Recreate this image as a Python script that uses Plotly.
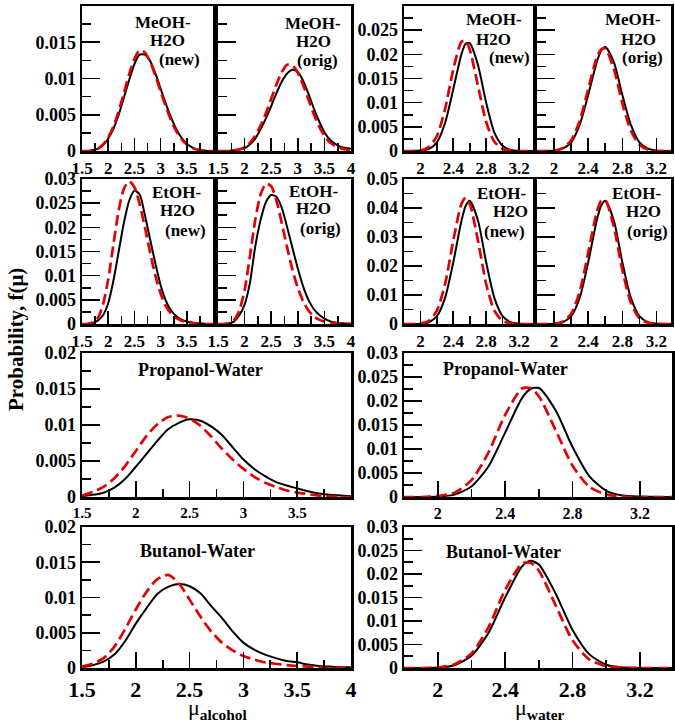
import plotly.graph_objects as go

W, H = 675, 725
FONT = "Liberation Serif"

# ---------------- data ----------------
alc_x = [1.5, 1.6, 1.7, 1.8, 1.9, 2.0, 2.1, 2.2, 2.3, 2.4, 2.5, 2.6, 2.7, 2.8, 2.9,
         3.0, 3.1, 3.2, 3.3, 3.4, 3.5, 3.6, 3.7, 3.8, 3.9, 4.0]
water_x = [1.8, 1.9, 2.0, 2.1, 2.2, 2.3, 2.4, 2.5, 2.55, 2.6, 2.7, 2.8, 2.9, 3.0, 3.1, 3.2, 3.4]

meoh_new_alc_black = [0, 0, .0001, .0003, .0008, .0017, .0031, .0050, .0074, .0098, .0120, .0133, .0133,
                      .0124, .0107, .0086, .0065, .0046, .0030, .0018, .0010, .0005, .0002, .0001, 0, 0]
meoh_new_alc_red = [0, 0, .0001, .0003, .0009, .0019, .0034, .0055, .0080, .0106, .0127, .0139, .0136,
                    .0123, .0104, .0082, .0061, .0042, .0027, .0016, .0009, .0004, .0002, .0001, 0, 0]
meoh_orig_alc_black = [0, 0, 0, .0001, .0002, .0004, .0009, .0017, .0030, .0045, .0062, .0080, .0096,
                       .0107, .0112, .0109, .0097, .0079, .0059, .0041, .0026, .0016, .0010, .0006, .0004, .0003]
meoh_orig_alc_red = [0, 0, 0, .0001, .0002, .0005, .0011, .0021, .0035, .0052, .0072, .0092, .0109,
                     .0119, .0118, .0108, .0091, .0071, .0051, .0034, .0021, .0012, .0007, .0004, .0002, .0001]
etoh_new_alc_black = [0, 0, .0002, .0007, .0018, .0043, .0090, .0150, .0210, .0255, .0276, .0268, .0225,
                      .0175, .0125, .0080, .0048, .0028, .0016, .0009, .0005, .0003, .0002, .0001, 0, 0]
etoh_new_alc_red = [0, 0, .0003, .0012, .0040, .0092, .0165, .0235, .0280, .0295, .0283, .0248, .0200,
                    .0148, .0100, .0063, .0037, .0021, .0012, .0007, .0004, .0002, .0001, 0, 0, 0]
etoh_orig_alc_black = [0, 0, .0001, .0005, .0018, .0040, .0085, .0160, .0215, .0252, .0267, .0263, .0240,
                       .0200, .0157, .0115, .0078, .0050, .0031, .0019, .0011, .0006, .0003, .0002, .0001, .0001]
etoh_orig_alc_red = [0, 0, .0002, .0008, .0028, .0070, .0140, .0215, .0268, .0290, .0285, .0255, .0208,
                     .0158, .0112, .0075, .0047, .0028, .0016, .0009, .0005, .0003, .0002, .0001, 0, 0]
prop_alc_black = [.0001, .0003, .0006, .0013, .0025, .0042, .0060, .0078, .0094, .0103, .0108, .0106, .0098,
                  .0086, .0069, .0052, .0039, .0029, .0021, .0016, .0012, .0008, .0005, .0003, .0002, .0001]
prop_alc_red = [.0002, .0007, .0014, .0026, .0043, .0064, .0085, .0101, .0111, .0113, .0109, .0099, .0084,
                .0067, .0052, .0039, .0028, .0020, .0014, .0009, .0006, .0004, .0002, .0001, 0, 0]
but_alc_black = [.0001, .0004, .0009, .0019, .0038, .0063, .0085, .0105, .0115, .0119, .0116, .0106, .0088,
                 .0071, .0052, .0036, .0026, .0019, .0014, .0010, .0008, .0005, .0003, .0002, .0001, .0001]
but_alc_red = [.0002, .0006, .0014, .0030, .0055, .0083, .0108, .0126, .0132, .0120, .0097, .0073, .0052,
               .0036, .0025, .0017, .0012, .0008, .0006, .0004, .0003, .0002, .0001, 0, 0, 0]

meoh_new_wat_black = [0, 0, .0001, .0004, .0018, .0058, .0128, .0201, .0222, .0223, .0178, .0100, .0038, .0011, .0002, 0, 0]
meoh_new_wat_red = [0, 0, .0001, .0008, .0031, .0087, .0169, .0226, .0228, .0210, .0135, .0060, .0019, .0004, .0001, 0, 0]
meoh_orig_wat_black = [0, 0, .0001, .0005, .0018, .0054, .0116, .0184, .0207, .0215, .0184, .0116, .0054, .0018, .0005, .0001, 0]
meoh_orig_wat_red = [0, 0, .0001, .0006, .0022, .0062, .0128, .0193, .0210, .0212, .0170, .0099, .0042, .0013, .0003, 0, 0]
etoh_new_wat_black = [0, 0, .0001, .0006, .0027, .0090, .0213, .0357, .0407, .0425, .0357, .0213, .0090, .0027, .0006, .0001, 0]
etoh_new_wat_red = [0, 0, .0002, .0011, .0046, .0138, .0288, .0415, .0435, .0415, .0288, .0138, .0046, .0011, .0002, 0, 0]
etoh_orig_wat_black = [0, 0, .0001, .0006, .0027, .0090, .0213, .0357, .0407, .0425, .0357, .0213, .0090, .0027, .0006, .0001, 0]
etoh_orig_wat_red = [0, 0, .0001, .0008, .0035, .0111, .0246, .0385, .0424, .0427, .0335, .0186, .0073, .0020, .0004, .0001, 0]
prop_wat_black = [0, 0, .0001, .0005, .0022, .0063, .0134, .0206, .0225, .0227, .0180, .0104, .0043, .0013, .0003, .0001, 0]
prop_wat_red = [0, 0, .0002, .0009, .0035, .0092, .0171, .0226, .0227, .0210, .0139, .0065, .0021, .0005, .0001, 0, 0]
but_wat_black = [0, 0, .0001, .0006, .0026, .0074, .0150, .0216, .0228, .0220, .0158, .0081, .0029, .0007, .0001, 0, 0]
but_wat_red = [0, 0, .0001, .0008, .0031, .0086, .0166, .0222, .0224, .0207, .0133, .0059, .0018, .0004, .0001, 0, 0]

meoh_new_lines = ["MeOH-", "H2O", "(new)"]
meoh_orig_lines = ["MeOH-", "H2O", "(orig)"]
etoh_new_lines = ["EtOH-", "H2O", "(new)"]
etoh_orig_lines = ["EtOH-", "H2O", "(orig)"]

panels = [
    dict(x=alc_x, b=meoh_new_alc_black, r=meoh_new_alc_red, kind="alc", xend=3.999, xb=(82, 213), yb=(6, 151), ymax=0.02, dy=0.005, ylab=True, xf=17, row=12),
    dict(x=alc_x, b=meoh_orig_alc_black, r=meoh_orig_alc_red, kind="alc", xend=4.0, xb=(218, 351), yb=(6, 151), ymax=0.02, dy=0.005, ylab=False, xf=17, row=12),
    dict(x=water_x, b=meoh_new_wat_black, r=meoh_new_wat_red, kind="wat", xend=3.37, xb=(404, 533), yb=(6, 151), ymax=0.03, dy=0.005, ylab=True, xf=17, row=12),
    dict(x=water_x, b=meoh_orig_wat_black, r=meoh_orig_wat_red, kind="wat", xend=3.37, xb=(537, 671), yb=(6, 151), ymax=0.03, dy=0.005, ylab=False, xf=17, row=12),
    dict(x=alc_x, b=etoh_new_alc_black, r=etoh_new_alc_red, kind="alc", xend=3.999, xb=(82, 213), yb=(179, 324), ymax=0.03, dy=0.005, ylab=True, xf=17, row=12),
    dict(x=alc_x, b=etoh_orig_alc_black, r=etoh_orig_alc_red, kind="alc", xend=4.0, xb=(218, 351), yb=(179, 324), ymax=0.03, dy=0.005, ylab=False, xf=17, row=12),
    dict(x=water_x, b=etoh_new_wat_black, r=etoh_new_wat_red, kind="wat", xend=3.37, xb=(404, 533), yb=(179, 324), ymax=0.05, dy=0.01, ylab=True, xf=17, row=12),
    dict(x=water_x, b=etoh_orig_wat_black, r=etoh_orig_wat_red, kind="wat", xend=3.37, xb=(537, 671), yb=(179, 324), ymax=0.05, dy=0.01, ylab=False, xf=17, row=12),
    dict(x=alc_x, b=prop_alc_black, r=prop_alc_red, kind="alc", xend=3.999, xb=(82, 351), yb=(353, 497), ymax=0.02, dy=0.005, ylab=True, xf=15, row=3),
    dict(x=water_x, b=prop_wat_black, r=prop_wat_red, kind="wat", xend=3.39, xb=(404, 672), yb=(353, 497), ymax=0.03, dy=0.005, ylab=True, xf=16, row=3),
    dict(x=alc_x, b=but_alc_black, r=but_alc_red, kind="alc", xend=4.0, xb=(82, 351), yb=(527, 668), ymax=0.02, dy=0.005, ylab=True, xf=22, row=4),
    dict(x=water_x, b=but_wat_black, r=but_wat_red, kind="wat", xend=3.39, xb=(404, 672), yb=(527, 668), ymax=0.03, dy=0.005, ylab=True, xf=22, row=4),
]

fig = go.Figure()
layout = {}
for i, p in enumerate(panels, start=1):
    xa = "x" if i == 1 else f"x{i}"
    ya = "y" if i == 1 else f"y{i}"
    fig.add_trace(go.Scatter(x=p["x"], y=p["b"], mode="lines", xaxis=xa, yaxis=ya,
                             line=dict(color="black", width=2, shape="spline", smoothing=0.7),
                             showlegend=False, hoverinfo="skip"))
    fig.add_trace(go.Scatter(x=p["x"], y=p["r"], mode="lines", xaxis=xa, yaxis=ya,
                             line=dict(color="rgb(228,0,0)", width=2.7, dash="11px,5px",
                                       shape="spline", smoothing=0.7),
                             showlegend=False, hoverinfo="skip"))
    if p["kind"] == "alc":
        xr = [1.5, p["xend"]]
        t0, dt = 1.5, 0.5
    else:
        xr = [1.8, p["xend"]]
        t0, dt = 2.0, 0.4
    big = p["row"] in (3, 4)
    x0, x1 = p["xb"]
    y0, y1 = p["yb"]
    layout["xaxis" if i == 1 else f"xaxis{i}"] = dict(
        domain=[x0 / W, x1 / W], range=xr, anchor=ya, layer="above traces", automargin=False,
        showline=True, linecolor="black", linewidth=2.5, mirror=True,
        ticks="inside", ticklen=16 if big else 13, tickwidth=1.6, tickcolor="#000000",
        tickmode="linear", tick0=t0, dtick=dt,
        tickfont=dict(family=FONT, size=p["xf"], color="black", weight="bold"),
        showgrid=False, zeroline=False, fixedrange=True,
        minor=dict(ticks="inside", ticklen=8, tickwidth=1.6, tickcolor="#000000",
                   tick0=t0, dtick=dt / 2, showgrid=False),
    )
    layout["yaxis" if i == 1 else f"yaxis{i}"] = dict(
        domain=[1 - y1 / H, 1 - y0 / H], range=[0, p["ymax"]], anchor=xa, layer="above traces",
        automargin=False,
        showline=True, linecolor="black", linewidth=2.5, mirror=True,
        ticks="inside", ticklen=18, tickwidth=1.6, tickcolor="#000000",
        tickmode="linear", tick0=0, dtick=p["dy"],
        showticklabels=p["ylab"],
        tickfont=dict(family=FONT, size=18, color="black", weight="bold"),
        showgrid=False, zeroline=False, fixedrange=True,
        minor=dict(ticks="inside", ticklen=9, tickwidth=1.6, tickcolor="#000000",
                   tick0=0, dtick=p["dy"] / 2, showgrid=False),
    )

label_pos = [
    (meoh_new_lines, [(193, 22.5), (187, 40.5), (202, 59)]),
    (meoh_orig_lines, [(343, 23.5), (333, 41.5), (340, 61)]),
    (meoh_new_lines, [(524, 19.5), (513, 39.5), (532, 57.5)]),
    (meoh_orig_lines, [(663, 19.5), (658, 39.5), (665, 57.5)]),
    (etoh_new_lines, [(203, 192.5), (197, 210.5), (208, 230.5)]),
    (etoh_orig_lines, [(340, 191), (333, 209), (343, 229)]),
    (etoh_new_lines, [(528, 193.5), (530, 211.5), (527, 231.5)]),
    (etoh_orig_lines, [(663, 193.5), (663, 211.5), (670, 231.5)]),
]
ann = []
for lines, pos in label_pos:
    for t, (xr_, yc) in zip(lines, pos):
        ann.append(dict(text=f"<b>{t}</b>", x=xr_ / W, y=1 - yc / H, xref="paper", yref="paper",
                        xanchor="right", yanchor="middle", showarrow=False,
                        font=dict(family=FONT, size=17, color="black")))
for t, xc, yc in [("Propanol-Water", 201, 370), ("Propanol-Water", 505, 369),
                  ("Butanol-Water", 197, 551), ("Butanol-Water", 503, 552)]:
    ann.append(dict(text=f"<b>{t}</b>", x=xc / W, y=1 - yc / H, xref="paper", yref="paper",
                    xanchor="center", yanchor="middle", showarrow=False,
                    font=dict(family=FONT, size=18, color="black")))

ann.append(dict(text="<b>Probability, f(μ)</b>", x=16 / W, y=1 - 340 / H, xref="paper", yref="paper",
                textangle=-90, xanchor="center", yanchor="middle", showarrow=False,
                font=dict(family=FONT, size=21, color="black")))
ann.append(dict(text="μ<sub><b>alcohol</b></sub>", x=218 / W, y=0, xref="paper", yref="paper",
                xanchor="center", yanchor="bottom", showarrow=False,
                font=dict(family=FONT, size=22, color="black")))
ann.append(dict(text="μ<sub><b>water</b></sub>", x=540 / W, y=0, xref="paper", yref="paper",
                xanchor="center", yanchor="bottom", showarrow=False,
                font=dict(family=FONT, size=22, color="black")))

fig.update_layout(template="none", width=W, height=H, margin=dict(l=0, r=0, t=0, b=0, pad=0),
                  paper_bgcolor="white", plot_bgcolor="white",
                  font=dict(family=FONT, color="black"), hovermode=False,
                  annotations=ann, **layout)
fig.write_html("out.html", config={"displayModeBar": False, "staticPlot": True},
               post_script="document.body.style.margin='0px';document.body.style.padding='0px';")
